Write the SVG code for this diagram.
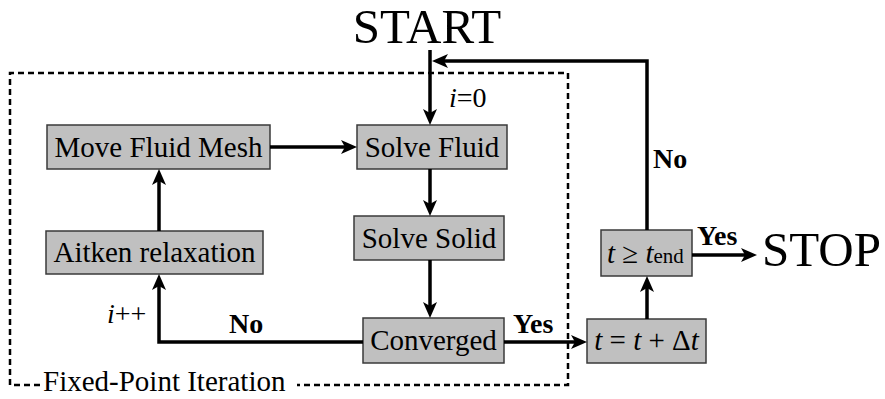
<svg xmlns="http://www.w3.org/2000/svg" width="885" height="399" viewBox="0 0 885 399">
<style>
.box{fill:#c0c0c0;stroke:#3a3a3a;stroke-width:1.5}
.t{font-family:"Liberation Serif","Times New Roman",serif;fill:#000}
.bt{font-size:29px;text-anchor:middle}
.lbl{font-size:28px}
.b{font-weight:bold}
.conn{fill:none;stroke:#000;stroke-width:3.5}
.frame{fill:none;stroke:#000;stroke-width:2.5;stroke-dasharray:6 4}
</style>
<defs>
<marker id="ah" markerUnits="userSpaceOnUse" markerWidth="16" markerHeight="14" refX="6" refY="7" orient="auto" overflow="visible">
<path d="M0,0 L16,7 L0,14 L4,7 z" fill="#000"/>
</marker>
</defs>
<rect width="885" height="399" fill="#fff"/>
<g id="frame">
<path class="frame" d="M40,385 H10 V73 H568 V385 H297"/>
<text class="t" x="43" y="391" font-size="29">Fixed-Point Iteration</text>
</g>
<g id="start"><text class="t" x="427" y="43" font-size="49" text-anchor="middle">START</text></g>
<g id="stop"><text class="t" x="762" y="266" font-size="49">STOP</text></g>
<g id="move-fluid-mesh"><rect class="box" x="47" y="125" width="223" height="44"/><text class="t bt" x="158.5" y="157">Move Fluid Mesh</text></g>
<g id="solve-fluid"><rect class="box" x="357" y="125" width="150" height="44"/><text class="t bt" x="432" y="157">Solve Fluid</text></g>
<g id="solve-solid"><rect class="box" x="354" y="216" width="150" height="44"/><text class="t bt" x="429" y="248">Solve Solid</text></g>
<g id="aitken"><rect class="box" x="46" y="231" width="217" height="43"/><text class="t bt" x="154.5" y="262">Aitken relaxation</text></g>
<g id="converged"><rect class="box" x="363" y="318" width="141" height="45"/><text class="t bt" x="433.5" y="350">Converged</text></g>
<g id="time-step"><rect class="box" x="587" y="319" width="119" height="44"/><text class="t" x="646.5" y="350" font-size="29" text-anchor="middle"><tspan font-style="italic">t</tspan> = <tspan font-style="italic">t</tspan> + Δ<tspan font-style="italic">t</tspan></text></g>
<g id="end-check"><rect class="box" x="601" y="230" width="91" height="46"/><text class="t" x="607" y="263" font-size="29"><tspan font-style="italic">t</tspan> ≥ <tspan font-style="italic">t</tspan><tspan font-size="21">end</tspan></text></g>
<g id="connectors">
<path class="conn" marker-end="url(#ah)" d="M430,50 V115"/>
<path class="conn" marker-end="url(#ah)" d="M647,230 V61 H442"/>
<path class="conn" marker-end="url(#ah)" d="M270,147 H347"/>
<path class="conn" marker-end="url(#ah)" d="M430,169 V206"/>
<path class="conn" marker-end="url(#ah)" d="M430,260 V308"/>
<path class="conn" marker-end="url(#ah)" d="M363,342 H159 V284"/>
<path class="conn" marker-end="url(#ah)" d="M159,231 V179"/>
<path class="conn" marker-end="url(#ah)" d="M504,342 H577"/>
<path class="conn" marker-end="url(#ah)" d="M647,319 V286"/>
<path class="conn" marker-end="url(#ah)" d="M692,255 H747"/>
</g>
<g id="labels">
<text class="t lbl" x="449" y="107"><tspan font-style="italic">i</tspan>=0</text>
<text class="t lbl" x="107" y="323"><tspan font-style="italic">i</tspan>++</text>
<text class="t lbl b" x="229" y="333">No</text>
<text class="t lbl b" x="513" y="333">Yes</text>
<text class="t lbl b" x="653" y="168">No</text>
<text class="t lbl b" x="697" y="245">Yes</text>
</g>
</svg>
